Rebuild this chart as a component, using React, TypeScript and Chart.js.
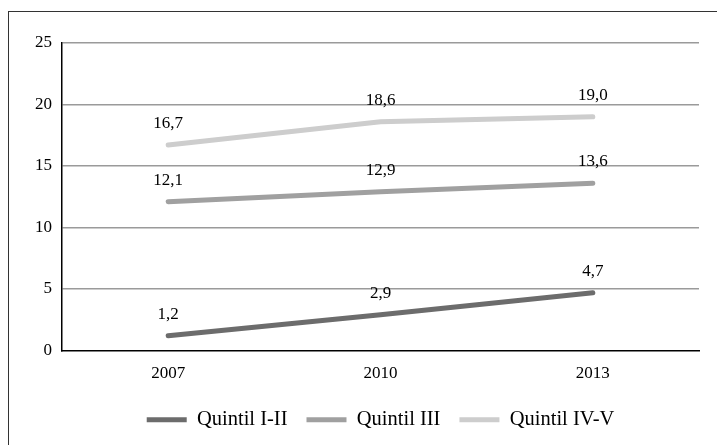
import React, { useEffect, useRef } from "react";
import { Chart, registerables } from "chart.js";

Chart.register(...registerables);

const categories = ["2007", "2010", "2013"];
const quintilI_II = [1.2, 2.9, 4.7];
const quintilIII = [12.1, 12.9, 13.6];
const quintilIV_V = [16.7, 18.6, 19.0];
const seriesNames = ["Quintil I-II", "Quintil III", "Quintil IV-V"];
const yTicks = [0, 5, 10, 15, 20, 25];

const FONT = "'Liberation Serif', 'Times New Roman', Tinos, 'DejaVu Serif'";

const dataLabels = {
  id: "dataLabels",
  afterDatasetsDraw(chart: any) {
    const ctx = chart.ctx;
    ctx.save();
    ctx.font = `17px ${FONT}`;
    ctx.fillStyle = "#000";
    ctx.textAlign = "center";
    ctx.textBaseline = "alphabetic";
    chart.data.datasets.forEach((ds: any, i: number) => {
      const meta = chart.getDatasetMeta(i);
      meta.data.forEach((pt: any, j: number) => {
        const v = ds.data[j] as number;
        ctx.fillText(v.toFixed(1).replace(".", ","), pt.x, pt.y - 17);
      });
    });
    ctx.restore();
  },
};

export default function App() {
  const ref = useRef<HTMLCanvasElement | null>(null);
  useEffect(() => {
    if (!ref.current) return;
    const colors = ["#6c6c6c", "#a0a0a0", "#cdcdcd"];
    const series = [quintilI_II, quintilIII, quintilIV_V];
    const chart = new Chart(ref.current, {
      type: "line",
      data: {
        labels: categories,
        datasets: series.map((d, i) => ({
          label: seriesNames[i],
          data: d,
          borderColor: colors[i],
          backgroundColor: colors[i],
          borderWidth: 5,
          borderCapStyle: "round",
          pointRadius: 0,
          tension: 0,
        })),
      },
      options: {
        animation: false,
        responsive: false,
        maintainAspectRatio: false,
        font: { family: FONT },
        layout: { padding: { top: 43, left: 0, right: 18, bottom: 5 } },
        scales: {
          x: {
            offset: true,
            grid: { display: false, drawTicks: false },
            border: { display: true, color: "#000", width: 1.5 },
            ticks: { font: { family: FONT, size: 17 }, color: "#000", padding: 13 },
            afterFit(scale: any) {
              scale.height = 40;
            },
          },
          y: {
            min: 0,
            max: 25,
            afterBuildTicks(scale: any) {
              scale.ticks = yTicks.map((v) => ({ value: v }));
            },
            grid: {
              drawTicks: false,
              color: (c: any) => (c.tick && c.tick.value === 0 ? "rgba(0,0,0,0)" : "#9a9a9a"),
              lineWidth: 1.5,
            },
            border: { display: true, color: "#000", width: 1.5 },
            ticks: { font: { family: FONT, size: 17 }, color: "#000", padding: 10 },
            afterFit(scale: any) {
              scale.width = 62;
            },
          },
        },
        plugins: {
          legend: {
            position: "bottom",
            fullSize: false,
            labels: {
              font: { family: FONT, size: 20.5 },
              color: "#000",
              boxWidth: 40,
              boxHeight: 5,
              useBorderRadius: true,
              borderRadius: 2.5,
              padding: 19,
              generateLabels(ch: any) {
                return ch.data.datasets.map((ds: any, i: number) => ({
                  text: ds.label,
                  fillStyle: ds.borderColor,
                  strokeStyle: ds.borderColor,
                  lineWidth: 0,
                  datasetIndex: i,
                  hidden: false,
                  fontColor: "#000",
                }));
              },
            },
          },
          tooltip: { enabled: false },
        },
      },
      plugins: [dataLabels],
    });
    return () => chart.destroy();
  }, []);

  return (
    <div>
      <div
        style={{
          position: "fixed",
          left: 8,
          top: 11,
          width: 800,
          height: 600,
          border: "1px solid #333",
          boxSizing: "border-box",
        }}
      />
      <canvas
        ref={ref}
        width={717}
        height={445}
        style={{ position: "fixed", left: 0, top: 0, width: 717, height: 445 }}
      />
    </div>
  );
}
